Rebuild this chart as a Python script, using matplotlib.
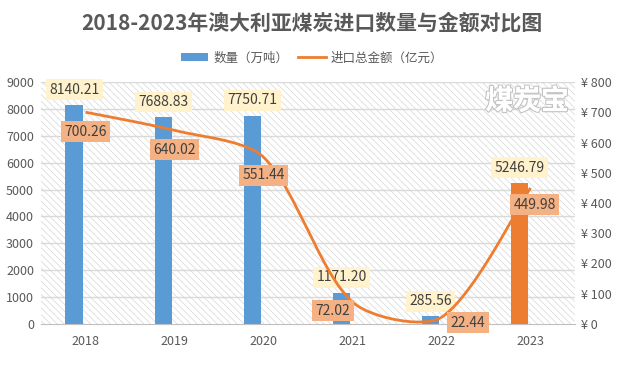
import numpy as np
import matplotlib
matplotlib.use('Agg')
import matplotlib.pyplot as plt
import matplotlib.patheffects as pe
from matplotlib.patches import Rectangle, Patch
from matplotlib.lines import Line2D

plt.rcParams['font.family'] = ['Noto Sans CJK SC', 'DejaVu Sans']
plt.rcParams['hatch.color'] = '#D6D6D6'
plt.rcParams['hatch.linewidth'] = 0.5

years = ['2018', '2019', '2020', '2021', '2022', '2023']
quantity = [8140.21, 7688.83, 7750.71, 1171.20, 285.56, 5246.79]   # 万吨
amount = [700.26, 640.02, 551.44, 72.02, 22.44, 449.98]            # 亿元
left_ticks = [0, 1000, 2000, 3000, 4000, 5000, 6000, 7000, 8000, 9000]
right_ticks = [0, 100, 200, 300, 400, 500, 600, 700, 800]

blue = '#5B9BD5'
orange = '#ED7D31'
grey = '#595959'


def smooth(xs, ys, sx, sy, n=50, k=0.28):
    # excel style bezier smoothing (tangents weighted by segment length), in pixel units
    px = np.asarray(xs, float) * sx
    py = np.asarray(ys, float) * sy
    pts = np.column_stack([px, py])
    m = len(pts)
    outx, outy = [], []
    for i in range(m - 1):
        p0 = pts[max(i - 1, 0)]
        p1 = pts[i]
        p2 = pts[i + 1]
        p3 = pts[min(i + 2, m - 1)]
        d01 = np.hypot(*(p1 - p0))
        d12 = np.hypot(*(p2 - p1))
        d23 = np.hypot(*(p3 - p2))
        f1 = k * d12 / (d01 + d12) if d01 > 0 else k / 2
        f2 = k * d12 / (d12 + d23) if d23 > 0 else k / 2
        c1 = p1 + (p2 - p0) * f1
        c2 = p2 - (p3 - p1) * f2
        t = np.linspace(0, 1, n)[:, None]
        b = (1 - t) ** 3 * p1 + 3 * (1 - t) ** 2 * t * c1 + 3 * (1 - t) * t ** 2 * c2 + t ** 3 * p2
        outx.extend(b[:, 0] / sx)
        outy.extend(b[:, 1] / sy)
    return outx, outy


fig = plt.figure(figsize=(6.24, 3.68), dpi=100)
ax = fig.add_axes([0.0657, 0.1196, 0.856, 0.6575])
ax2 = ax.twinx()

x = np.arange(len(years))

# hatched background
ax.add_patch(Rectangle((0, 0), 1, 1, transform=ax.transAxes, facecolor='white',
                       hatch='\\\\\\\\\\', edgecolor='#D6D6D6', lw=0, zorder=0))
for v in left_ticks[1:]:
    ax.axhline(v, color='#D9D9D9', lw=1.0, zorder=1)

colors = [blue] * 5 + [orange]
ax.bar(x - 0.125, quantity, width=0.2, color=colors, zorder=2)
ax.set_xlim(-0.5, 5.5)
ax.set_ylim(0, 9000)
ax.set_yticks(left_ticks)
ax.set_xticks(x)
ax.set_xticklabels(years)

for q, xi in zip(quantity, x):
    ax.annotate(f'{q:.2f}', (xi - 0.125, q), xytext=(0, 11), textcoords='offset points',
                ha='center', va='center', fontsize=10, color='#404040', zorder=6,
                bbox=dict(boxstyle='square,pad=0.25', fc='#FFF2CC', ec='none'))

ax2.set_ylim(0, 800)
ax2.set_yticks(right_ticks)
ax2.set_yticklabels([f'¥ {v}' for v in right_ticks])
lx, ly = smooth(x, amount, 89.0, 243.0 / 800.0)
ax2.plot(lx, ly, color=orange, lw=2, zorder=3, solid_capstyle='butt')

offs = [(0, -14), (0, -14), (0, -13), (-14, -6), (19, -4), (3, -12)]
for a, xi, (dx, dy) in zip(amount, x, offs):
    ax2.annotate(f'{a:.2f}', (xi, a), xytext=(dx, dy), textcoords='offset points',
                 ha='center', va='center', fontsize=10, color='#404040', zorder=6,
                 bbox=dict(boxstyle='square,pad=0.25', fc='#F4B183', ec='none'))

for a in (ax, ax2):
    for s in a.spines.values():
        s.set_visible(False)
    a.tick_params(length=0, colors=grey, labelsize=9)
ax.spines['bottom'].set_visible(True)
ax.spines['bottom'].set_color('#BFBFBF')
ax.tick_params(axis='x', pad=8)
ax.tick_params(axis='y', pad=5)
ax2.tick_params(axis='y', pad=4)

# watermark
ax.text(0.91, 0.92, '煤炭宝', transform=ax.transAxes, ha='center', va='center',
        fontsize=20, fontweight='bold', color='white', zorder=5,
        path_effects=[pe.withStroke(linewidth=1.8, foreground='#C4C4C4'), pe.Normal()])

fig.text(0.5, 0.937, '2018-2023年澳大利亚煤炭进口数量与金额对比图', ha='center', va='center',
         fontsize=15, fontweight='bold', color=grey)

handles = [Patch(facecolor=blue, edgecolor='none'), Line2D([0], [0], color=orange, lw=2)]
fig.legend(handles, ['数量（万吨）', '进口总金额（亿元）'], loc='center', bbox_to_anchor=(0.5, 0.842),
           ncol=2, frameon=False, fontsize=9, labelcolor=grey, handlelength=2.2,
           handleheight=0.6, columnspacing=0.8, handletextpad=0.4)

fig.savefig('out.png', dpi=100)
